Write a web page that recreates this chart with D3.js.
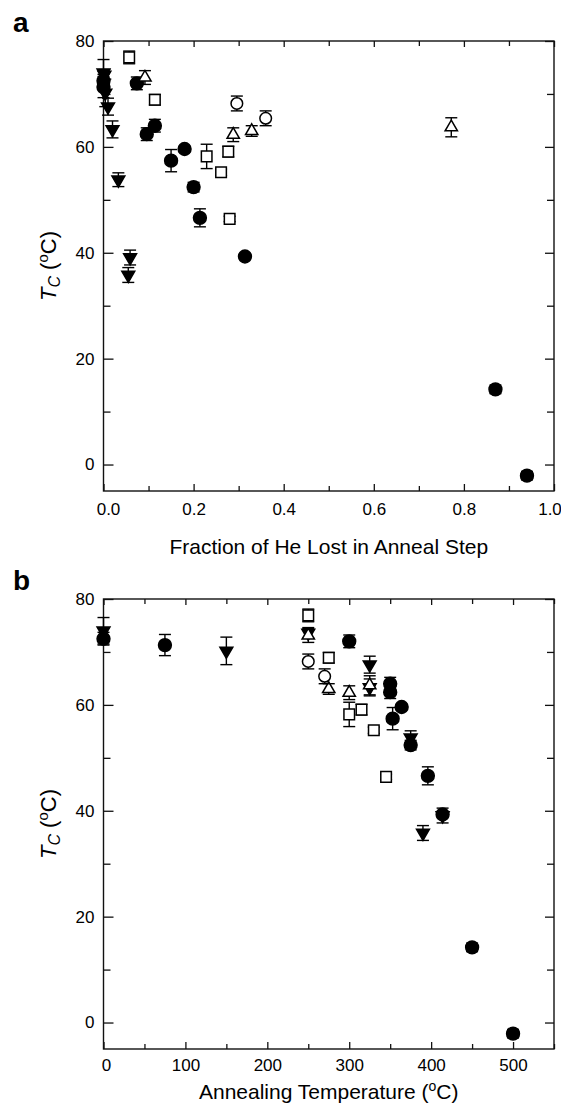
<!DOCTYPE html>
<html>
<head>
<meta charset="utf-8">
<script src="https://cdn.jsdelivr.net/npm/d3@7"></script>
<style>
  body { margin: 0; background: #fff; }
  svg { display: block; }
  text { font-family: "Liberation Sans", Arial, Helvetica, sans-serif; fill: #000; }
</style>
</head>
<body>
<svg id="chart" width="561" height="1112"></svg>
<script>
// Critical temperature Tc per sample series.
// frac: fraction of He lost in the anneal step, temp: annealing temperature (°C),
// tc: Tc (°C), err: uncertainty on Tc (°C)
const filledCircles = [
  {frac: 0.000, temp: 0,   tc: 72.5, err: 1.2},
  {frac: 0.000, temp: 75,  tc: 71.3, err: 2.0},
  {frac: 0.074, temp: 300, tc: 72.0, err: 1.2},
  {frac: 0.096, temp: 350, tc: 62.4, err: 1.2},
  {frac: 0.114, temp: 350, tc: 64.0, err: 1.2},
  {frac: 0.150, temp: 353, tc: 57.4, err: 2.1},
  {frac: 0.180, temp: 364, tc: 59.6, err: 0.5},
  {frac: 0.200, temp: 375, tc: 52.4, err: 0.9},
  {frac: 0.214, temp: 396, tc: 46.6, err: 1.7},
  {frac: 0.314, temp: 414, tc: 39.3, err: 0.6},
  {frac: 0.870, temp: 450, tc: 14.2, err: 0.8},
  {frac: 0.940, temp: 500, tc: -2.1, err: 0.8}
];
const filledTriangles = [
  {frac: 0.000, temp: 0,   tc: 74.0, err: 2.5},
  {frac: 0.004, temp: 150, tc: 70.2, err: 2.6},
  {frac: 0.002, temp: 250, tc: 73.6, err: 1.0},
  {frac: 0.010, temp: 325, tc: 67.6, err: 1.6},
  {frac: 0.020, temp: 325, tc: 63.3, err: 1.6},
  {frac: 0.033, temp: 375, tc: 53.8, err: 1.3},
  {frac: 0.059, temp: 414, tc: 39.1, err: 1.4},
  {frac: 0.055, temp: 390, tc: 35.8, err: 1.4}
];
const openSquares = [
  {frac: 0.057, temp: 250, tc: 76.9, err: 1.2},
  {frac: 0.114, temp: 275, tc: 68.9, err: 1.0},
  {frac: 0.229, temp: 300, tc: 58.2, err: 2.3},
  {frac: 0.261, temp: 330, tc: 55.2, err: 0.6},
  {frac: 0.277, temp: 315, tc: 59.1, err: 1.0},
  {frac: 0.280, temp: 345, tc: 46.4, err: 0.5}
];
const openTriangles = [
  {frac: 0.092, temp: 250, tc: 73.1, err: 1.3},
  {frac: 0.288, temp: 300, tc: 62.3, err: 1.3},
  {frac: 0.329, temp: 275, tc: 63.0, err: 1.0},
  {frac: 0.772, temp: 325, tc: 63.7, err: 1.8}
];
const openCircles = [
  {frac: 0.296, temp: 250, tc: 68.2, err: 1.4},
  {frac: 0.360, temp: 270, tc: 65.4, err: 1.4}
];

// Axis ticks
const tcMajorTicks = [0, 20, 40, 60, 80];
const tcMinorTicks = [10, 30, 50, 70];
const fracMajorTicks = [0, 0.2, 0.4, 0.6, 0.8, 1.0];
const fracMinorTicks = [0.1, 0.3, 0.5, 0.7, 0.9];
const tempMajorTicks = [0, 100, 200, 300, 400, 500];
const tempMinorTicks = [50, 150, 250, 350, 450, 550];

const seriesStyles = [
  {data: filledCircles,   shape: d3.symbolCircle,   size: 130, rotate: 0,   fill: "#000"},
  {data: filledTriangles, shape: d3.symbolTriangle, size: 72,  rotate: 180, fill: "#000"},
  {data: openSquares,     shape: d3.symbolSquare,   size: 112, rotate: 0,   fill: "#fff"},
  {data: openTriangles,   shape: d3.symbolTriangle, size: 66,  rotate: 0,   fill: "#fff"},
  {data: openCircles,     shape: d3.symbolCircle,   size: 106, rotate: 0,   fill: "#fff"}
];

const svg = d3.select("#chart");
svg.append("rect").attr("width", 561).attr("height", 1112).attr("fill", "#fff");

const left = 103.5, right = 554;

function drawPanel(opt) {
  const x = d3.scaleLinear().domain(opt.xDomain).range([left, right]);
  const y = d3.scaleLinear().domain([-5, 80]).range([opt.bottom, opt.top]);
  const g = svg.append("g");

  const styleAxis = sel => {
    sel.select(".domain").remove();
    sel.selectAll("line").attr("stroke", "#111").attr("stroke-width", 1.3);
    sel.selectAll("text").attr("font-size", 17).attr("fill", "#000")
      .attr("font-family", '"Liberation Sans", Arial, sans-serif');
  };

  // bottom axis with labels
  const bottomAxis = g.append("g").attr("transform", `translate(0,${opt.bottom})`)
    .call(d3.axisBottom(x).tickValues(opt.xMajor).tickSizeInner(-7).tickSizeOuter(0)
      .tickPadding(opt.tickPad).tickFormat(opt.xFormat))
    .call(styleAxis);
  // end labels sit slightly inside the frame
  const labels = bottomAxis.selectAll("text").nodes();
  d3.select(labels[0]).attr("dx", opt.firstShift);
  d3.select(labels[labels.length - 1]).attr("dx", opt.lastShift);

  g.append("g").attr("transform", `translate(0,${opt.bottom})`)
    .call(d3.axisBottom(x).tickValues(opt.xMinor).tickSizeInner(-5).tickSizeOuter(0).tickFormat(""))
    .call(styleAxis);
  // top axis
  g.append("g").attr("transform", `translate(0,${opt.top})`)
    .call(d3.axisTop(x).tickValues(opt.xMajor).tickSizeInner(-6).tickSizeOuter(0).tickFormat(""))
    .call(styleAxis);
  g.append("g").attr("transform", `translate(0,${opt.top})`)
    .call(d3.axisTop(x).tickValues(opt.xMinor).tickSizeInner(-5).tickSizeOuter(0).tickFormat(""))
    .call(styleAxis);
  // left axis with labels
  g.append("g").attr("transform", `translate(${left},0)`)
    .call(d3.axisLeft(y).tickValues(tcMajorTicks).tickSizeInner(-10).tickSizeOuter(0)
      .tickPadding(9).tickFormat(d3.format("d")))
    .call(styleAxis);
  g.append("g").attr("transform", `translate(${left},0)`)
    .call(d3.axisLeft(y).tickValues(tcMinorTicks).tickSizeInner(-7).tickSizeOuter(0).tickFormat(""))
    .call(styleAxis);
  // right axis
  g.append("g").attr("transform", `translate(${right},0)`)
    .call(d3.axisRight(y).tickValues(tcMajorTicks).tickSizeInner(-9).tickSizeOuter(0).tickFormat(""))
    .call(styleAxis);
  g.append("g").attr("transform", `translate(${right},0)`)
    .call(d3.axisRight(y).tickValues(tcMinorTicks).tickSizeInner(-7).tickSizeOuter(0).tickFormat(""))
    .call(styleAxis);

  // frame
  g.append("rect")
    .attr("x", left).attr("y", opt.top)
    .attr("width", right - left).attr("height", opt.bottom - opt.top)
    .attr("fill", "none").attr("stroke", "#111").attr("stroke-width", 1.4);

  // data: error bars first, symbols on top
  const marks = g.append("g");
  seriesStyles.forEach(s => {
    const pts = marks.append("g");
    const eb = pts.selectAll("g.eb").data(s.data).join("g").attr("class", "eb")
      .attr("stroke", "#000").attr("stroke-width", 1.4);
    eb.append("line")
      .attr("x1", d => x(d[opt.xKey])).attr("x2", d => x(d[opt.xKey]))
      .attr("y1", d => y(d.tc - d.err)).attr("y2", d => y(d.tc + d.err));
    eb.append("line")
      .attr("x1", d => x(d[opt.xKey]) - 6).attr("x2", d => x(d[opt.xKey]) + 6)
      .attr("y1", d => y(d.tc + d.err)).attr("y2", d => y(d.tc + d.err));
    eb.append("line")
      .attr("x1", d => x(d[opt.xKey]) - 6).attr("x2", d => x(d[opt.xKey]) + 6)
      .attr("y1", d => y(d.tc - d.err)).attr("y2", d => y(d.tc - d.err));
    pts.selectAll("path.sym").data(s.data).join("path").attr("class", "sym")
      .attr("d", d3.symbol().type(s.shape).size(s.size))
      .attr("transform", d => `translate(${x(d[opt.xKey])},${y(d.tc)}) rotate(${s.rotate})`)
      .attr("fill", s.fill).attr("stroke", "#000").attr("stroke-width", 1.5);
  });

  // panel letter
  g.append("text").attr("x", 13).attr("y", opt.top - 9)
    .attr("font-size", 28).attr("font-weight", "bold").text(opt.letter);

  // y-axis title: T_C (°C)
  const cy = (opt.top + opt.bottom) / 2;
  const yt = g.append("text")
    .attr("transform", `translate(56,${cy}) rotate(-90)`)
    .attr("text-anchor", "middle").attr("font-size", 22);
  yt.append("tspan").attr("font-style", "italic").text("T");
  yt.append("tspan").attr("font-style", "italic").attr("font-size", 16).attr("dy", 4).text("C");
  yt.append("tspan").attr("dy", -4).text(" (");
  yt.append("tspan").attr("font-size", 15).attr("dy", -8).text("o");
  yt.append("tspan").attr("dy", 8).text("C)");

  // x-axis title
  const xt = g.append("text")
    .attr("x", (left + right) / 2).attr("y", opt.bottom + opt.titleOffset)
    .attr("text-anchor", "middle").attr("font-size", 21);
  opt.xTitle(xt);
}

drawPanel({
  letter: "a", top: 41, bottom: 491,
  xDomain: [0, 1], xKey: "frac",
  xMajor: fracMajorTicks, xMinor: fracMinorTicks, xFormat: d3.format(".1f"),
  tickPad: 12, titleOffset: 62.5, firstShift: 4.5, lastShift: -4.5,
  xTitle: t => t.text("Fraction of He Lost in Anneal Step")
});

drawPanel({
  letter: "b", top: 599, bottom: 1049,
  xDomain: [0, 550], xKey: "temp",
  xMajor: tempMajorTicks, xMinor: tempMinorTicks, xFormat: d3.format("d"),
  tickPad: 10, titleOffset: 49.5, firstShift: 2.5, lastShift: 0,
  xTitle: t => {
    t.append("tspan").text("Annealing Temperature (");
    t.append("tspan").attr("font-size", 14).attr("dy", -8).text("o");
    t.append("tspan").attr("dy", 8).text("C)");
  }
});
</script>
</body>
</html>
